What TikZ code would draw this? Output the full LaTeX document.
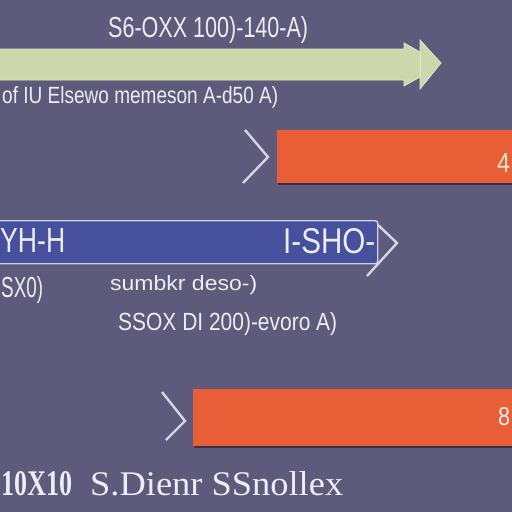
\documentclass[tikz,border=0pt]{standalone}
\usepackage{fontspec}
\setmainfont{Liberation Serif}
\setsansfont{Liberation Sans}
\usepackage{graphicx}
\definecolor{bg}{RGB}{94,90,124}
\definecolor{greenbar}{RGB}{206,214,172}
\definecolor{greenedge}{RGB}{226,232,200}
\definecolor{orangebar}{RGB}{232,94,54}
\definecolor{bluebar}{RGB}{70,80,156}
\definecolor{blueedge}{RGB}{205,210,228}
\definecolor{txt}{RGB}{236,236,242}
\definecolor{chev}{RGB}{214,214,224}
\definecolor{dropsh}{RGB}{52,48,74}
\newcommand{\fitt}[3]{\resizebox{#1pt}{#2pt}{#3}}
\begin{document}
\begin{tikzpicture}[x=1pt,y=-1pt,
  lbl/.style={text=txt,font=\sffamily,inner sep=0pt,anchor=base west},
  slbl/.style={text=txt,font=\rmfamily,inner sep=0pt,anchor=base west},
  chevron/.style={draw=chev,line width=2.4pt,miter limit=10},
  orangebox/.style={fill=orangebar,draw=none,anchor=north west,inner sep=0pt},
  bluebox/.style={fill=bluebar,draw=blueedge,line width=1.4pt,rounded corners=2.5pt,anchor=north west,inner sep=0pt}]
\useasboundingbox (0,0) rectangle (512,512);
\clip (0,0) rectangle (512,512);
\fill[bg] (0,0) rectangle (512,512);

% top text
\node[lbl] (t1) at (108,37) {\fitt{200}{21}{S6-OXX 100)-140-A)}};

% green arrow
\fill[greenbar,draw=greenedge,line width=0.8pt]
  (-5,49) -- (404,49) -- (404,43) -- (420,52) -- (420,40) -- (441,63)
  -- (420,89) -- (420,77) -- (404,86) -- (404,80) -- (-5,80) -- cycle;
\draw[greenedge,line width=0.8pt] (420,52) -- (420,77);

\node[lbl] (t2) at (2,103) {\fitt{276}{17}{of IU Elsewo memeson A-d50 A)}};

% orange box 1
\fill[dropsh] (278,132) rectangle (517,185);
\node[orangebox,minimum width=240pt,minimum height=53pt] (o1) at (277,130) {};
\node[lbl,text={rgb,255:red,226;green,234;blue,196}] (n4) at (497,172) {\fitt{13}{19}{4}};
\draw[chevron] (245,130) -- (268,157) -- (243,183);

% blue bar
\node[bluebox,minimum width=382pt,minimum height=43pt] (b1) at (-5,220) {};
\node[lbl] (bl) at (0,252) {\fitt{65}{24}{YH-H}};
\node[lbl] (br) at (283,253) {\fitt{92}{25}{I-SHO-}};
\draw[chevron] (378,225) -- (397,243) -- (367,276);

\node[lbl] (t3) at (1,297) {\fitt{42}{21}{SX0)}};
\node[lbl] (t4) at (110,290) {\fitt{147}{15}{sumbkr deso-)}};
\node[lbl] (t5) at (118,330) {\fitt{219}{18}{SSOX DI 200)-evoro A)}};

% orange box 2
\fill[dropsh] (194,391) rectangle (517,448);
\node[orangebox,minimum width=324pt,minimum height=57pt] (o2) at (193,389) {};
\node[lbl] (n8) at (498,425) {\fitt{12}{18}{8}};
\draw[chevron] (162,392) -- (185,421) -- (166,440);

% bottom text
\node[slbl,font=\rmfamily\bfseries] (t6) at (1,495) {\fitt{71}{24}{10X10}};
\node[slbl] (t7) at (90,495) {\fitt{253}{24}{S.Dienr SSnollex}};
\end{tikzpicture}
\end{document}
